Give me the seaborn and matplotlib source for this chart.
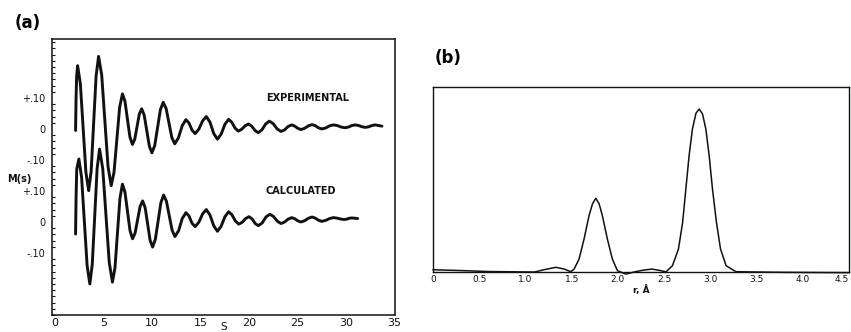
import matplotlib
matplotlib.use("Agg")
import matplotlib.pyplot as plt
from matplotlib.ticker import MultipleLocator
import seaborn as sns

# ---------------- data: panel (a), molecular intensity M(s) ----------------
s_exp = [2.13, 2.18, 2.24, 2.34, 2.625, 2.91, 3.195, 3.48, 3.735, 3.99, 4.245, 4.5,
         4.825, 5.15, 5.475, 5.8, 6.09, 6.38, 6.67, 6.96, 7.22, 7.475, 7.73, 7.99,
         8.23, 8.465, 8.70, 8.94, 9.205, 9.47, 9.735, 10.0, 10.29, 10.58, 10.87, 11.16,
         11.46, 11.755, 12.05, 12.35, 12.73, 13.12, 13.5, 13.82, 14.13, 14.45,
         14.83, 15.22, 15.6, 15.98, 16.37, 16.75, 17.13, 17.52, 17.9, 18.23, 18.57, 18.9,
         19.25, 19.6, 19.95, 20.28, 20.62, 20.95, 21.33, 21.72, 22.1, 22.5, 22.9, 23.3,
         23.67, 24.03, 24.4, 24.72, 25.03, 25.35, 25.73, 26.12, 26.5, 26.83, 27.17, 27.5,
         27.9, 28.3, 28.7, 29.1, 29.5, 29.9, 30.25, 30.6, 30.95, 31.3, 31.65, 32.0,
         32.33, 32.67, 33.0, 33.7]
m_exp = [-0.005, 0.10, 0.17, 0.204, 0.145, 0.0025, -0.140, -0.199, -0.136, 0.0175, 0.171, 0.234,
         0.173, 0.0255, -0.122, -0.183, -0.140, -0.035, 0.070, 0.113, 0.089, 0.0315, -0.026, -0.050,
         -0.033, 0.0075, 0.048, 0.065, 0.044, -0.006, -0.056, -0.077, -0.053, 0.0045, 0.062, 0.086,
         0.066, 0.019, -0.028, -0.048, -0.0285, 0.0105, 0.030, 0.019, -0.004, -0.015,
         -0.001, 0.026, 0.040, 0.022, -0.015, -0.033, -0.017, 0.015, 0.031, 0.0215, 0.0025, -0.007,
         -0.001, 0.010, 0.016, 0.009, -0.005, -0.012, -0.003, 0.016, 0.025, 0.017, 0.0, -0.008,
         -0.003, 0.008, 0.013, 0.009, 0.002, -0.002, 0.002, 0.010, 0.014, 0.0105, 0.0035, 0.0,
         0.003, 0.010, 0.013, 0.011, 0.006, 0.004, 0.006, 0.011, 0.013, 0.011, 0.007, 0.005,
         0.007, 0.011, 0.013, 0.009]

s_calc = [2.13, 2.18, 2.25, 2.47, 2.75, 3.035, 3.32, 3.6, 3.85, 4.1, 4.35, 4.6,
          4.93, 5.265, 5.6, 5.93, 6.19, 6.445, 6.70, 6.96, 7.22, 7.48, 7.74, 8.0,
          8.26, 8.52, 8.78, 9.04, 9.30, 9.555, 9.81, 10.07, 10.35, 10.635, 10.92, 11.2,
          11.49, 11.785, 12.08, 12.37, 12.75, 13.12, 13.5, 13.82, 14.13, 14.45,
          14.83, 15.22, 15.6, 15.98, 16.37, 16.75, 17.13, 17.52, 17.9, 18.25, 18.6, 18.95,
          19.3, 19.65, 20.0, 20.32, 20.64, 20.96, 21.36, 21.75, 22.15, 22.53, 22.92, 23.3,
          23.67, 24.03, 24.4, 24.72, 25.03, 25.35, 25.73, 26.12, 26.5, 26.83, 27.17, 27.5,
          27.9, 28.3, 28.7, 29.07, 29.43, 29.8, 30.07, 30.33, 30.6, 31.2]
m_calc = [-0.039, 0.08, 0.171, 0.203, 0.144, 0.0015, -0.141, -0.200, -0.136, 0.0175, 0.172, 0.235,
          0.172, 0.0205, -0.131, -0.194, -0.148, -0.036, 0.076, 0.122, 0.096, 0.034, -0.028, -0.054,
          -0.036, 0.007, 0.050, 0.068, 0.046, -0.0065, -0.059, -0.081, -0.056, 0.003, 0.062, 0.087,
          0.067, 0.020, -0.027, -0.047, -0.028, 0.011, 0.030, 0.019, -0.004, -0.015,
          -0.001, 0.026, 0.040, 0.0225, -0.0125, -0.030, -0.014, 0.017, 0.033, 0.023, 0.003, -0.007,
          -0.001, 0.011, 0.017, 0.010, -0.005, -0.012, -0.003, 0.016, 0.025, 0.0175, 0.0025, -0.005,
          0.0, 0.009, 0.014, 0.0105, 0.0035, 0.0, 0.004, 0.012, 0.016, 0.0125, 0.0055, 0.002,
          0.005, 0.011, 0.014, 0.0125, 0.0095, 0.008, 0.009, 0.012, 0.013, 0.011]

a_xticks = [0, 5, 10, 15, 20, 25, 30, 35]
a_ytick_labels = ["+.10", "0", "-.10", "+.10", "0", "-.10"]
calc_offset = -0.30

# ---------------- data: panel (b), radial distribution ----------------
r_vals = [0.0, 0.3, 0.6, 0.9, 1.1, 1.2, 1.33, 1.42, 1.49, 1.526, 1.58, 1.634, 1.688, 1.725,
          1.761, 1.797, 1.832, 1.886, 1.94, 1.995, 2.085, 2.19, 2.28, 2.37, 2.45, 2.52,
          2.59, 2.655, 2.70, 2.735, 2.77, 2.806, 2.845, 2.879, 2.915, 2.951, 2.987, 3.023,
          3.066, 3.11, 3.17, 3.276, 3.5, 3.8, 4.1, 4.5]
f_vals = [0.8, 0.3, -0.3, -0.5, -0.6, 0.8, 2.3, 1.2, -0.4, 1.2, 7.4, 19.8, 34.2, 41.5,
          44.9, 41.5, 34.2, 19.8, 7.4, 0.2, -1.9, -0.4, 0.6, 1.2, 0.4, -0.5,
          3.3, 13.6, 30.0, 50.6, 71.2, 87.7, 97.5, 100.0, 97.0, 87.7, 71.2, 50.6,
          30.0, 13.6, 3.3, -0.4, -0.6, -0.8, -0.9, -1.0]
b_xticks = [0, 0.5, 1.0, 1.5, 2.0, 2.5, 3.0, 3.5, 4.0, 4.5]
b_xtick_labels = ["0", "0.5", "1.0", "1.5", "2.0", "2.5", "3.0", "3.5", "4.0", "4.5"]

# ---------------- figure ----------------
sns.set_style("white")
plt.rcParams["font.family"] = ["DejaVu Sans"]

fig = plt.figure(figsize=(8.51, 3.32), dpi=100)
ink = "#111111"

# Panel (a)
axa = fig.add_axes([0.0611, 0.0512, 0.4031, 0.8313])
sns.lineplot(x=s_exp, y=m_exp, ax=axa, color=ink, lw=2.1, estimator=None, sort=False)
sns.lineplot(x=s_calc, y=[v + calc_offset for v in m_calc], ax=axa, color=ink, lw=2.1,
             estimator=None, sort=False)
axa.set_xlim(-0.3, 35.05)
axa.set_ylim(-0.60, 0.29)
axa.set_xticks(a_xticks)
axa.set_xticklabels([str(v) for v in a_xticks])
axa.set_yticks([0.10, 0.0, -0.10, -0.20, -0.30, -0.40])
axa.set_yticklabels(a_ytick_labels)
axa.yaxis.set_minor_locator(MultipleLocator(0.02))
axa.tick_params(axis="x", direction="in", length=4, width=1, colors=ink, labelsize=8, pad=2)
axa.tick_params(axis="y", which="major", direction="inout", length=6, width=1, colors=ink,
                labelsize=7, pad=2)
axa.tick_params(axis="y", which="minor", direction="in", length=2, width=0.8, colors=ink, left=True)
for sp in axa.spines.values():
    sp.set_color(ink)
    sp.set_linewidth(1.1)
axa.set_xlabel("S", fontsize=7.5, color=ink, labelpad=-4)
axa.set_ylabel("M(s)", rotation=0, fontsize=7, fontweight="bold", color=ink)
axa.yaxis.set_label_coords(-0.095, 0.475)
axa.text(21.75, 0.10, "EXPERIMENTAL", fontsize=7, fontweight="bold", color=ink, va="center", ha="left")
axa.text(21.75, -0.20, "CALCULATED", fontsize=7, fontweight="bold", color=ink, va="center", ha="left")
fig.text(0.017, 0.93, "(a)", fontsize=12, fontweight="bold", color="black", ha="left", va="center")

# Panel (b)
axb = fig.add_axes([0.5088, 0.1807, 0.4889, 0.5572])
sns.lineplot(x=r_vals, y=f_vals, ax=axb, color=ink, lw=1.1, estimator=None, sort=False)
for ln in axb.get_lines():
    ln.set_clip_on(False)
axb.set_xlim(0, 4.5)
axb.set_ylim(-0.6, 113.6)
axb.set_xticks(b_xticks)
axb.set_xticklabels(b_xtick_labels)
axb.set_yticks([])
axb.tick_params(axis="x", direction="in", length=4, width=1, colors=ink, labelsize=6.5, pad=2)
xtl = axb.get_xticklabels()
xtl[-1].set_horizontalalignment("right")
for sp in axb.spines.values():
    sp.set_color(ink)
    sp.set_linewidth(1.0)
axb.set_xlabel("r, Å", fontsize=6.5, fontweight="bold", color=ink, labelpad=1)
fig.text(0.511, 0.825, "(b)", fontsize=12, fontweight="bold", color="black", ha="left", va="center")

fig.savefig("out.png", dpi=100, facecolor="white")
